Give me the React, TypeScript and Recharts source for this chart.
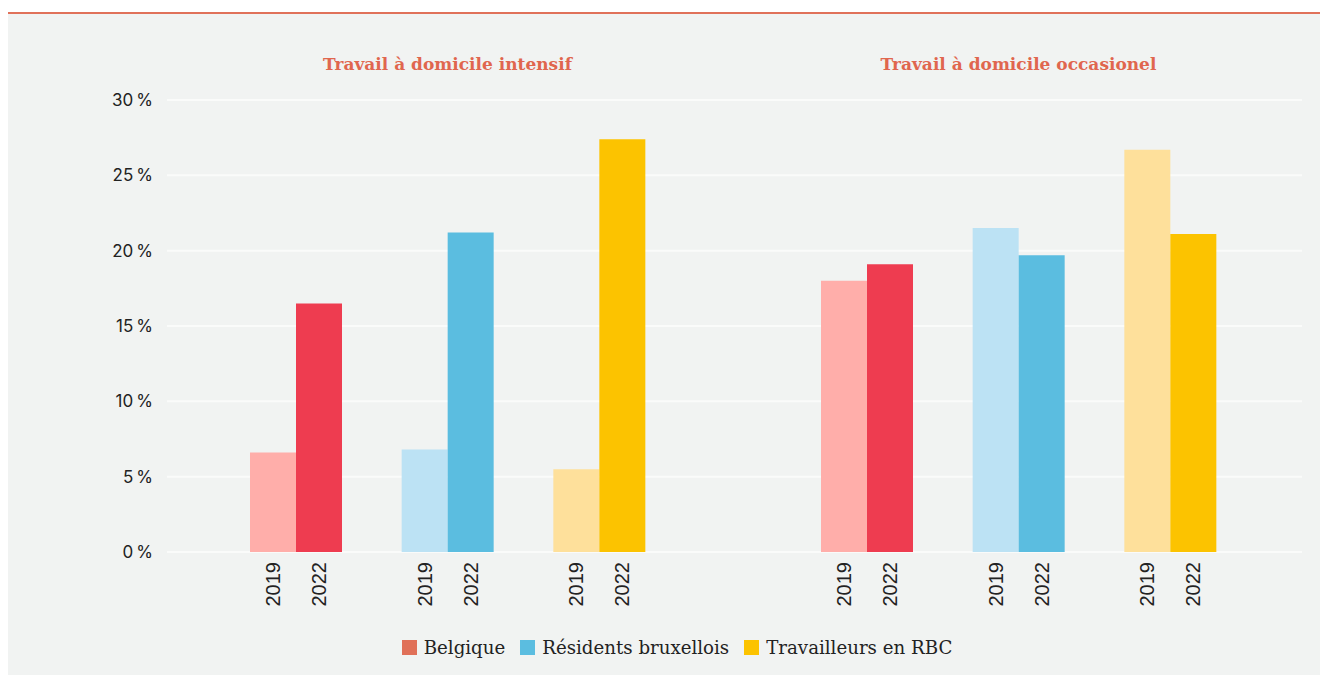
import React from 'react';
import { BarChart, Bar, XAxis, YAxis, CartesianGrid, Cell } from 'recharts';

// Catégories et valeurs (% des travailleurs)
const categories = ['Belgique', 'Résidents bruxellois', 'Travailleurs en RBC'];
const years = ['2019', '2022'];
const intensif2019 = [6.6, 6.8, 5.5];
const intensif2022 = [16.5, 21.2, 27.4];
const occasionnel2019 = [18.0, 21.5, 26.7];
const occasionnel2022 = [19.1, 19.7, 21.1];
const panelTitles = ['Travail à domicile intensif', 'Travail à domicile occasionel'];
const yTicks = [0, 5, 10, 15, 20, 25, 30];

const LIGHT = ['#ffaeaa', '#bce2f4', '#fee09b'];
const DARK = ['#ee3c50', '#5bbde0', '#fcc300'];
const LEGEND = ['#e07058', '#5bbde0', '#fcc300'];
const BG = '#f1f3f2';
const BAR = 46;
const H = 620;

const buildData = (a: number[], b: number[]) =>
  categories.map((c, i) => ({ name: c, y2019: a[i], y2022: b[i] }));

const YearTick = (props: any) => {
  const { x, y } = props;
  return (
    <g>
      {years.map((yr, i) => (
        <text
          key={yr}
          transform={`translate(${x + (i - 0.5) * BAR},${y + 2}) rotate(-90)`}
          textAnchor="end"
          dominantBaseline="central"
          fontFamily="Liberation Sans"
          fontSize={20}
          fill="#222"
        >
          {yr}
        </text>
      ))}
    </g>
  );
};

function Panel({ data, width, showY, padding, marginRight }: any) {
  return (
    <BarChart
      width={width}
      height={H}
      data={data}
      barGap={0}
      margin={{ top: 86, right: marginRight, bottom: 0, left: 0 }}
    >
      <CartesianGrid vertical={false} stroke="#fafbfa" strokeWidth={2} />
      <XAxis
        dataKey="name"
        axisLine={false}
        tickLine={false}
        height={H - 86 - 452}
        padding={padding}
        interval={0}
        tick={<YearTick />}
      />
      <YAxis
        domain={[0, 30]}
        ticks={yTicks}
        hide={!showY}
        width={159}
        axisLine={false}
        tickLine={false}
        tickMargin={8}
        tickFormatter={(v: number) => `${v}\u2009%`}
        tick={{ fontFamily: 'Inter', fontSize: 17, fill: '#222' }}
      />
      <Bar dataKey="y2019" barSize={BAR} isAnimationActive={false}>
        {data.map((_: any, i: number) => <Cell key={i} fill={LIGHT[i]} />)}
      </Bar>
      <Bar dataKey="y2022" barSize={BAR} isAnimationActive={false}>
        {data.map((_: any, i: number) => <Cell key={i} fill={DARK[i]} />)}
      </Bar>
    </BarChart>
  );
}

const titleStyle: React.CSSProperties = {
  position: 'absolute',
  top: 40,
  textAlign: 'center',
  fontFamily: 'DejaVu Serif',
  fontWeight: 'bold',
  fontSize: 17,
  color: '#e0664e',
};

export default function App() {
  return (
    <div style={{ marginTop: 4, borderTop: '2px solid #e0715a', background: BG, width: 1320, height: 661, position: 'relative' }}>
      <div style={{ ...titleStyle, left: 212, width: 455 }}>{panelTitles[0]}</div>
      <div style={{ ...titleStyle, left: 783, width: 455 }}>{panelTitles[1]}</div>
      <div style={{ display: 'flex' }}>
        <Panel data={buildData(intensif2019, intensif2022)} width={725} showY padding={{ left: 53, right: 58 }} marginRight={0} />
        <Panel data={buildData(occasionnel2019, occasionnel2022)} width={595} showY={false} padding={{ left: 58, right: 56 }} marginRight={26} />
      </div>
      <div style={{ display: 'flex', justifyContent: 'center', gap: 15, fontFamily: 'DejaVu Serif', fontSize: 18.2, color: '#222', marginTop: 3, paddingLeft: 18 }}>
        {categories.map((c, i) => (
          <div key={c} style={{ display: 'flex', alignItems: 'center', gap: 7 }}>
            <span style={{ width: 15, height: 15, background: LEGEND[i], display: 'inline-block' }} />
            <span>{c}</span>
          </div>
        ))}
      </div>
    </div>
  );
}
